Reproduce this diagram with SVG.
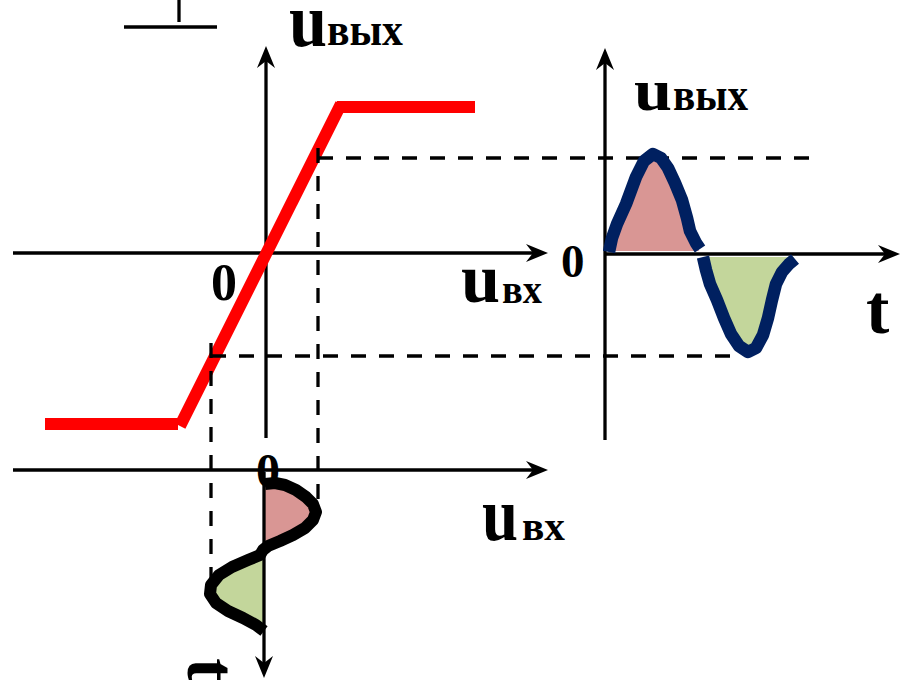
<svg xmlns="http://www.w3.org/2000/svg" width="901" height="680" viewBox="0 0 901 680">
<style>
.ax{stroke:#000;stroke-width:3.3;fill:none}
.dash{stroke:#000;stroke-width:3.3;fill:none;stroke-dasharray:15 13}
.red{stroke:#FF0000;stroke-width:12;fill:none;stroke-linecap:butt}
.navy{stroke:#002060;stroke-width:12.5;fill:none;stroke-linejoin:round;stroke-linecap:butt}
.blk{stroke:#000;stroke-width:12;fill:none;stroke-linejoin:round;stroke-linecap:butt}
.pink{fill:#D99694;stroke:none}
.green{fill:#C3D69B;stroke:none}
.lbl{font-family:"Liberation Serif","Times New Roman",serif;font-weight:bold;fill:#000}
</style>
<defs>
<marker id="arr" viewBox="0 -10 23 20" refX="14" refY="0" markerWidth="23" markerHeight="20" markerUnits="userSpaceOnUse" orient="auto">
<path d="M22,0 L0,-9 L7,0 L0,9 Z" fill="#000"/>
</marker>
</defs>
<rect width="901" height="680" fill="#fff"/>

<g id="corner-mark">
<line class="ax" x1="124" y1="27" x2="217" y2="27"/>
<line class="ax" x1="179" y1="0" x2="179" y2="22"/>
</g>

<g id="fills">
<path class="pink" d="M609,251 L612,238 L617,224 L626,204 L636,177 L644,161 L653,154 L661,158 L668,168 L675,183 L682,200 L687,218 L690,231 L696,243 L699,251 Z"/>
<path class="green" d="M703,257 L706,270 L710,284 L717,300 L724,318 L731,334 L739,346 L748,352 L756,348 L763,335 L768,318 L772,300 L776,284 L782,272 L789,264 L794,257 Z"/>
<path class="pink" d="M265,484 L275,483 L285,485 L296,490 L306,497 L313,504 L316,512 L313,520 L305,528 L293,535 L280,541 L268,546 L265,548 Z"/>
<path class="green" d="M264,554 L260,555 L248,560 L232,567 L219,575 L211,585 L210,594 L216,603 L228,611 L243,618 L256,625 L264,630 Z"/>
</g>

<g id="axes">
<line class="ax" x1="13" y1="253" x2="540" y2="253" marker-end="url(#arr)"/>
<line class="ax" x1="266" y1="438" x2="266" y2="54" marker-end="url(#arr)"/>
<line class="ax" x1="605" y1="440" x2="605" y2="56" marker-end="url(#arr)"/>
<line class="ax" x1="605" y1="254" x2="892" y2="254" marker-end="url(#arr)"/>
<line class="ax" x1="13" y1="470" x2="540" y2="470" marker-end="url(#arr)"/>
<line class="ax" x1="264" y1="472" x2="264" y2="670" marker-end="url(#arr)"/>
</g>

<g id="transfer-curve">
<line class="red" x1="45" y1="424" x2="178" y2="424"/>
<line class="red" x1="180" y1="426" x2="341" y2="104"/>
<line class="red" x1="337" y1="107" x2="475" y2="107"/>
</g>

<g id="connectors">
<line class="dash" x1="318" y1="158" x2="810" y2="158"/>
<line class="dash" x1="318" y1="148" x2="318" y2="500"/>
<line class="dash" x1="211" y1="356" x2="740" y2="356"/>
<line class="dash" x1="211" y1="343" x2="211" y2="578"/>
</g>

<g id="output-wave">
<path class="navy" d="M609,252 L612,238 L617,224 L626,204 L636,177 L644,161 L653,154 L661,158 L668,168 L675,183 L682,200 L687,218 L690,231 L696,243 L700,249"/>
<path class="navy" d="M703,257 L706,270 L710,284 L717,300 L724,318 L731,334 L739,346 L748,352 L756,348 L763,335 L768,318 L772,300 L776,284 L782,272 L789,264 L795,259"/>
</g>

<g id="input-wave">
<path class="blk" d="M265,484 L275,483 L285,485 L296,490 L306,497 L313,504 L316,512 L313,520 L305,528 L293,535 L280,541 L268,546 L263,550 L260,555 L248,560 L232,567 L219,575 L211,585 L210,594 L216,603 L228,611 L243,618 L256,625 L264,631"/>
</g>

<g id="labels">
<text class="lbl" font-size="60" transform="translate(289,46) scale(1.14,1.28)">u</text>
<text class="lbl" font-size="46" x="327" y="45" textLength="76" lengthAdjust="spacingAndGlyphs">вых</text>
<text class="lbl" font-size="60" transform="translate(634,110) scale(1.14,1)">u</text>
<text class="lbl" font-size="46" x="673" y="110" textLength="75" lengthAdjust="spacingAndGlyphs">вых</text>
<text class="lbl" font-size="60" transform="translate(461,302) scale(1.17,1.17)">u</text>
<text class="lbl" font-size="40" x="502" y="303" textLength="40" lengthAdjust="spacingAndGlyphs">вх</text>
<text class="lbl" font-size="60" transform="translate(482,540) scale(1.08,1.28)">u</text>
<text class="lbl" font-size="43" x="522" y="540" textLength="43" lengthAdjust="spacingAndGlyphs">вх</text>
<text class="lbl" font-size="52" x="211" y="300">0</text>
<text class="lbl" font-size="47" x="561" y="277">0</text>
<text class="lbl" font-size="48" x="256" y="487">0</text>
<text class="lbl" font-size="70" x="866" y="333">t</text>
<text class="lbl" font-size="70" transform="translate(188,658) rotate(90)">t</text>
</g>
</svg>
